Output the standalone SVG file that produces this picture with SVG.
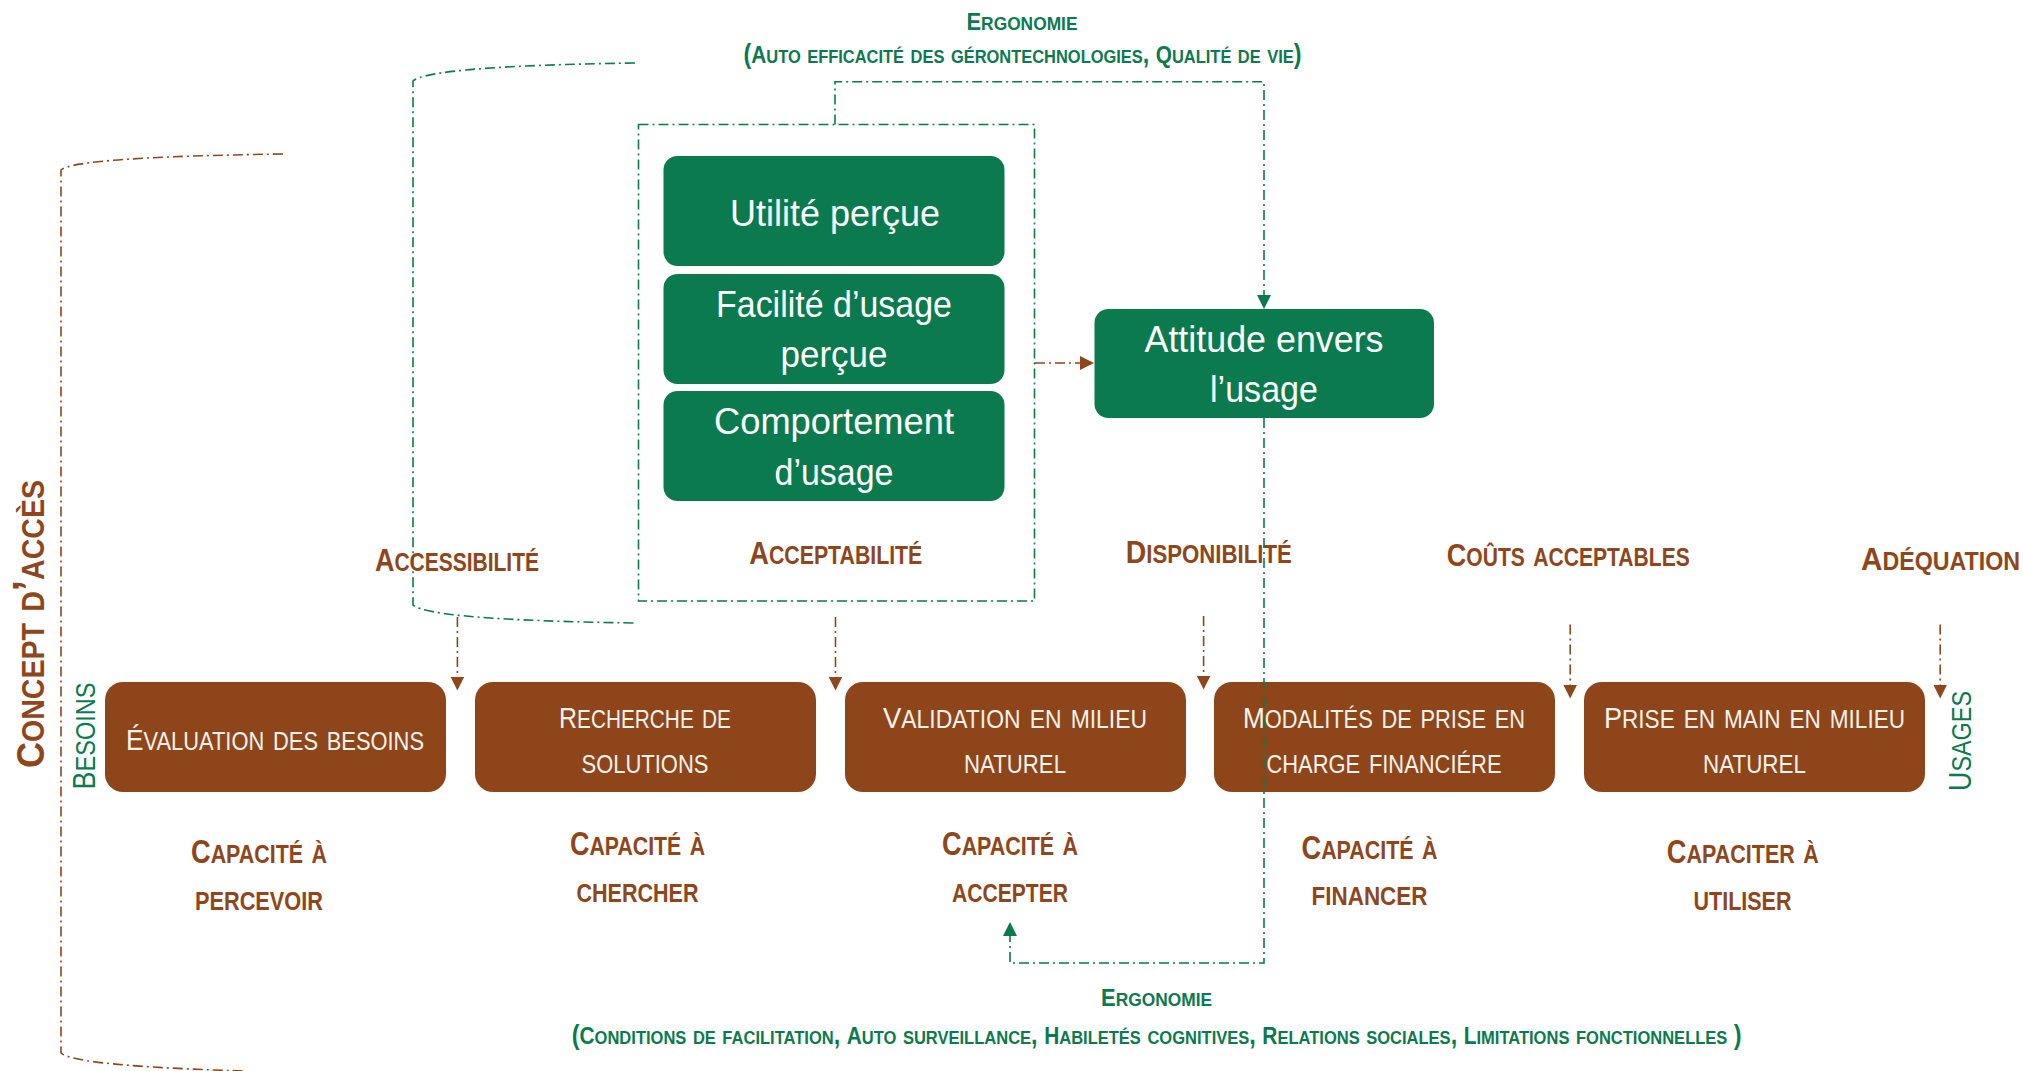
<svg xmlns="http://www.w3.org/2000/svg" width="2023" height="1071" viewBox="0 0 2023 1071">
<style>
text{font-family:'Liberation Sans',Arial,sans-serif;}
.gbox{fill:#0B7A4E;}
.bbox{fill:#8E451A;}
.gt{fill:#FFFFFF;font-size:37px;text-anchor:middle;}
.bt{fill:#F8F2EC;font-size:36px;text-anchor:middle;font-variant:small-caps;}
.bt .c{font-size:30px;}
.lab{fill:#8F461B;font-size:36px;font-weight:bold;text-anchor:middle;font-variant:small-caps;}
.lab .c{font-size:32px;}
.cap{fill:#8F461B;font-size:37px;font-weight:bold;text-anchor:middle;font-variant:small-caps;}
.cap .c{font-size:33px;}
.erg{fill:#0B7A4E;font-size:27px;font-weight:bold;text-anchor:middle;font-variant:small-caps;}
.erg .c{font-size:24px;}
.side{fill:#0B7A4E;font-size:38px;text-anchor:middle;font-variant:small-caps;}
.side .c{font-size:31px;}
.cpt{fill:#8F461B;font-size:44px;font-weight:bold;text-anchor:middle;font-variant:small-caps;}
.cpt .c{font-size:39px;}
.gd{fill:none;stroke:#0B7A4E;stroke-width:1.6;stroke-dasharray:10 4 2 4;}
.bd{fill:none;stroke:#8F461B;stroke-width:1.6;stroke-dasharray:10 4 2 4;}
</style>
<defs>
<marker id="ab" markerUnits="userSpaceOnUse" markerWidth="14" markerHeight="14" refX="14" refY="7" orient="auto"><path d="M0,0 L14,7 L0,14 Z" fill="#8F461B"/></marker>
<marker id="ag" markerUnits="userSpaceOnUse" markerWidth="14" markerHeight="14" refX="14" refY="7" orient="auto"><path d="M0,0 L14,7 L0,14 Z" fill="#0B7A4E"/></marker>
</defs>

<g id="brackets">
<path class="bd" d="M283,154 Q75,157 61,170 V1053 Q75,1066 245,1071"/>
<path class="gd" d="M635,63 Q430,66 413,81 V605 Q430,620 635,623"/>
<rect id="acceptabilite-box" class="gd" x="638.5" y="124.5" width="396" height="476.5"/>
</g>

<g id="concept">
<text class="cpt" transform="translate(43.5,624) rotate(-90)" textLength="288" lengthAdjust="spacingAndGlyphs"><tspan class="c">C</tspan>oncept d’accès</text>
</g>
<g id="besoins"><text class="side" transform="translate(94.7,736) rotate(-90)" textLength="107" lengthAdjust="spacingAndGlyphs"><tspan class="c">B</tspan>esoins</text></g>
<g id="usages"><text class="side" transform="translate(1970.8,741) rotate(-90)" textLength="100" lengthAdjust="spacingAndGlyphs"><tspan class="c">U</tspan>sages</text></g>

<g id="utilite">
<rect class="gbox" x="663.5" y="156" width="341" height="110" rx="14"/>
<text class="gt" x="835" y="226" textLength="210" lengthAdjust="spacingAndGlyphs">Utilité perçue</text>
</g>
<g id="facilite">
<rect class="gbox" x="663.5" y="274" width="341" height="110" rx="14"/>
<text class="gt" x="834" y="317" textLength="236" lengthAdjust="spacingAndGlyphs">Facilité d’usage</text>
<text class="gt" x="834" y="367" textLength="107" lengthAdjust="spacingAndGlyphs">perçue</text>
</g>
<g id="comportement">
<rect class="gbox" x="663.5" y="391" width="341" height="110" rx="14"/>
<text class="gt" x="834" y="434" textLength="240" lengthAdjust="spacingAndGlyphs">Comportement</text>
<text class="gt" x="834" y="485" textLength="119" lengthAdjust="spacingAndGlyphs">d’usage</text>
</g>
<g id="attitude">
<rect class="gbox" x="1094.5" y="309" width="339.5" height="109" rx="14"/>
<text class="gt" x="1264" y="352" textLength="239" lengthAdjust="spacingAndGlyphs">Attitude envers</text>
<text class="gt" x="1264" y="402" textLength="108" lengthAdjust="spacingAndGlyphs">l’usage</text>
</g>

<g id="evaluation">
<rect class="bbox" x="105" y="682" width="341" height="110" rx="18"/>
<text class="bt" x="275" y="750" textLength="298" lengthAdjust="spacingAndGlyphs"><tspan class="c">É</tspan>valuation des besoins</text>
</g>
<g id="recherche">
<rect class="bbox" x="475" y="682" width="341" height="110" rx="18"/>
<text class="bt" x="645" y="727.5" textLength="172" lengthAdjust="spacingAndGlyphs"><tspan class="c">R</tspan>echerche de</text>
<text class="bt" x="645" y="772.5" textLength="127" lengthAdjust="spacingAndGlyphs">solutions</text>
</g>
<g id="validation">
<rect class="bbox" x="845" y="682" width="341" height="110" rx="18"/>
<text class="bt" x="1015" y="727.5" textLength="264" lengthAdjust="spacingAndGlyphs"><tspan class="c">V</tspan>alidation en milieu</text>
<text class="bt" x="1015" y="772.5" textLength="102" lengthAdjust="spacingAndGlyphs">naturel</text>
</g>
<g id="modalites">
<rect class="bbox" x="1214" y="682" width="341" height="110" rx="18"/>
<text class="bt" x="1384" y="727.5" textLength="282" lengthAdjust="spacingAndGlyphs"><tspan class="c">M</tspan>odalités de prise en</text>
<text class="bt" x="1384" y="772.5" textLength="235" lengthAdjust="spacingAndGlyphs">charge financiére</text>
</g>
<g id="prise-en-main">
<rect class="bbox" x="1584" y="682" width="341" height="110" rx="18"/>
<text class="bt" x="1754.5" y="727.5" textLength="301" lengthAdjust="spacingAndGlyphs"><tspan class="c">P</tspan>rise en main en milieu</text>
<text class="bt" x="1754.5" y="772.5" textLength="103" lengthAdjust="spacingAndGlyphs">naturel</text>
</g>

<g id="labels">
<text class="erg" x="1022" y="29.5" textLength="111" lengthAdjust="spacingAndGlyphs"><tspan class="c">E</tspan>rgonomie</text>
<text class="erg" x="1022.5" y="63" textLength="558" lengthAdjust="spacingAndGlyphs">(<tspan class="c">A</tspan>uto efficacité des gérontechnologies, <tspan class="c">Q</tspan>ualité de vie)</text>
<text class="erg" x="1156.6" y="1006" textLength="111" lengthAdjust="spacingAndGlyphs"><tspan class="c">E</tspan>rgonomie</text>
<text class="erg" x="1156.7" y="1044.4" textLength="1170" lengthAdjust="spacingAndGlyphs">(<tspan class="c">C</tspan>onditions de facilitation, <tspan class="c">A</tspan>uto surveillance, <tspan class="c">H</tspan>abiletés cognitives, <tspan class="c">R</tspan>elations sociales, <tspan class="c">L</tspan>imitations fonctionnelles )</text>

<text class="lab" x="457" y="571" textLength="164" lengthAdjust="spacingAndGlyphs"><tspan class="c">A</tspan>ccessibilité</text>
<text class="lab" x="835.8" y="564" textLength="173" lengthAdjust="spacingAndGlyphs"><tspan class="c">A</tspan>cceptabilité</text>
<text class="lab" x="1208.8" y="563" textLength="166" lengthAdjust="spacingAndGlyphs"><tspan class="c">D</tspan>isponibilité</text>
<text class="lab" x="1568.3" y="566" textLength="243" lengthAdjust="spacingAndGlyphs"><tspan class="c">C</tspan>oûts acceptables</text>
<text class="lab" x="1940.5" y="570" textLength="159" lengthAdjust="spacingAndGlyphs"><tspan class="c">A</tspan>déquation</text>

<text class="cap" x="259" y="863" textLength="136" lengthAdjust="spacingAndGlyphs"><tspan class="c">C</tspan>apacité à</text>
<text class="cap" x="259" y="909.7" textLength="128" lengthAdjust="spacingAndGlyphs">percevoir</text>
<text class="cap" x="637.5" y="855" textLength="135" lengthAdjust="spacingAndGlyphs"><tspan class="c">C</tspan>apacité à</text>
<text class="cap" x="637.5" y="901.7" textLength="122" lengthAdjust="spacingAndGlyphs">chercher</text>
<text class="cap" x="1010" y="855" textLength="136" lengthAdjust="spacingAndGlyphs"><tspan class="c">C</tspan>apacité à</text>
<text class="cap" x="1010" y="901.7" textLength="116" lengthAdjust="spacingAndGlyphs">accepter</text>
<text class="cap" x="1369.5" y="858.7" textLength="136" lengthAdjust="spacingAndGlyphs"><tspan class="c">C</tspan>apacité à</text>
<text class="cap" x="1369.5" y="905" textLength="116" lengthAdjust="spacingAndGlyphs">financer</text>
<text class="cap" x="1742.8" y="863" textLength="152" lengthAdjust="spacingAndGlyphs"><tspan class="c">C</tspan>apaciter à</text>
<text class="cap" x="1742.5" y="909.7" textLength="98" lengthAdjust="spacingAndGlyphs">utiliser</text>
</g>

<g id="connectors">
<path class="gd" d="M835,124.5 V81.7 H1264 V309" marker-end="url(#ag)"/>
<path class="bd" d="M1035,363 H1094" marker-end="url(#ab)"/>
<path class="gd" d="M1264,418 V963 H1010 V922" marker-end="url(#ag)"/>
<path class="bd" d="M457.4,617 V690.5" marker-end="url(#ab)"/>
<path class="bd" d="M835.5,617 V690.5" marker-end="url(#ab)"/>
<path class="bd" d="M1203.6,616 V689.5" marker-end="url(#ab)"/>
<path class="bd" d="M1570.2,624.5 V698.5" marker-end="url(#ab)"/>
<path class="bd" d="M1940.2,624.5 V698.5" marker-end="url(#ab)"/>
</g>
</svg>
